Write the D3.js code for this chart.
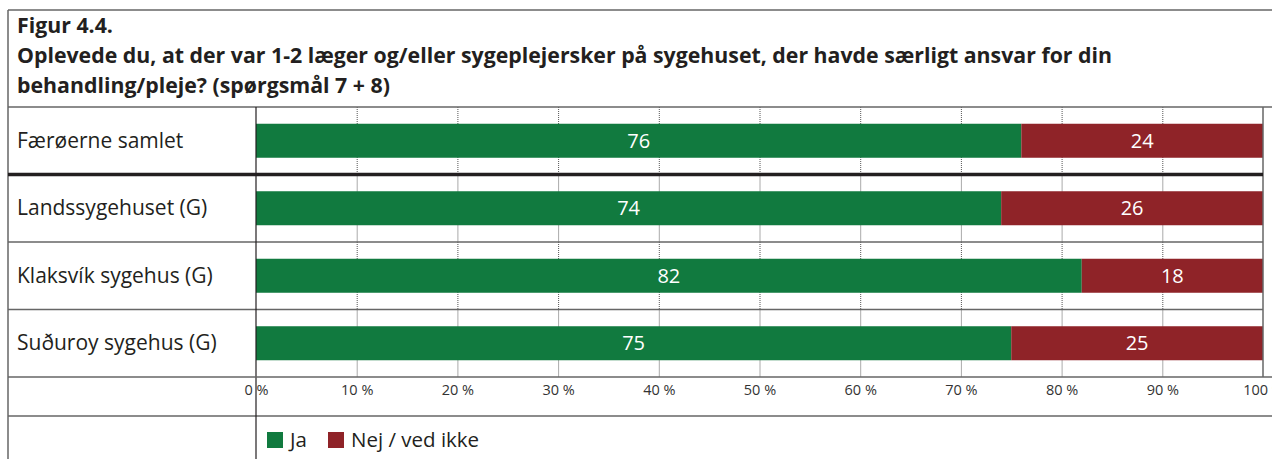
<!DOCTYPE html>
<html>
<head>
<meta charset="utf-8">
<script src="https://cdn.jsdelivr.net/npm/d3@7"></script>
<style>
  body { margin: 0; background: #fff; }
  svg text { font-family: "Open Sans", "Noto Sans", sans-serif; }
</style>
</head>
<body>
<div id="chart"></div>
<script>
var titleLines = ["Figur 4.4.",
  "Oplevede du, at der var 1-2 læger og/eller sygeplejersker på sygehuset, der havde særligt ansvar for din",
  "behandling/pleje? (spørgsmål 7 + 8)"]
var categories = ["Færøerne samlet", "Landssygehuset (G)", "Klaksvík sygehus (G)", "Suðuroy sygehus (G)"]
var jaValues = [76, 74, 82, 75]
var nejValues = [24, 26, 18, 25]
var seriesNames = ["Ja", "Nej / ved ikke"]
var tickValues = [0, 10, 20, 30, 40, 50, 60, 70, 80, 90, 100]

var W = 1272, H = 459
var colors = ["#117a3f", "#8f2328"]
var frameColor = "#666"

var svg = d3.select("#chart").append("svg")
  .attr("width", W)
  .attr("height", H)

var x = d3.scaleLinear()
  .domain([0, 100])
  .range([256, 1263])

var y = d3.scaleBand()
  .domain(categories)
  .range([107, 377])

var barH = 34

// title
svg.selectAll(".title")
  .data(titleLines)
  .enter().append("text")
  .attr("class", "title")
  .attr("x", 17)
  .attr("y", function (d, i) { return 33 + i * 30 })
  .style("font-size", "21.3px")
  .style("font-weight", "bold")
  .style("fill", "#231f20")
  .text(function (d) { return d })

// gridlines per row
categories.forEach(function (c) {
  svg.append("g")
    .selectAll("line")
    .data(tickValues.slice(1, -1))
    .enter().append("line")
    .attr("x1", function (d) { return x(d) + 0.5 })
    .attr("x2", function (d) { return x(d) + 0.5 })
    .attr("y1", y(c))
    .attr("y2", y(c) + y.bandwidth())
    .attr("stroke", "#555")
    .attr("stroke-width", 1)
    .attr("stroke-dasharray", "1,1")
})

// bars
var stackData = categories.map(function (c, i) {
  return { cat: c, ja: jaValues[i], nej: nejValues[i] }
})
var stack = d3.stack().keys(["ja", "nej"])(stackData)

var layers = svg.selectAll(".layer")
  .data(stack)
  .enter().append("g")
  .attr("class", "layer")
  .attr("fill", function (d, i) { return colors[i] })

layers.selectAll("rect")
  .data(function (d) { return d })
  .enter().append("rect")
  .attr("x", function (d) { return x(d[0]) })
  .attr("width", function (d) { return x(d[1]) - x(d[0]) })
  .attr("y", function (d) { return y(d.data.cat) + (y.bandwidth() - barH) / 2 })
  .attr("height", barH)

layers.selectAll("text")
  .data(function (d) { return d })
  .enter().append("text")
  .attr("x", function (d) { return (x(d[0]) + x(d[1])) / 2 })
  .attr("y", function (d) { return y(d.data.cat) + y.bandwidth() / 2 + 7 })
  .attr("text-anchor", "middle")
  .style("font-size", "20px")
  .style("fill", "#fff")
  .text(function (d) { return d[1] - d[0] })

// category labels
svg.selectAll(".cat")
  .data(categories)
  .enter().append("text")
  .attr("class", "cat")
  .attr("x", 17)
  .attr("y", function (d) { return y(d) + y.bandwidth() / 2 + 7 })
  .style("font-size", "21px")
  .style("fill", "#231f20")
  .text(function (d) { return d })

// frame lines
var frame = svg.append("g")
  .attr("stroke", frameColor)
  .attr("stroke-width", 1.5)
frame.append("line").attr("x1", 8).attr("x2", W).attr("y1", 10).attr("y2", 10)
frame.append("line").attr("x1", 8).attr("x2", 8).attr("y1", 10).attr("y2", H)
frame.append("line").attr("x1", 8).attr("x2", W).attr("y1", 107).attr("y2", 107)
frame.append("line").attr("x1", 8).attr("x2", W).attr("y1", 416).attr("y2", 416)
frame.append("line").attr("x1", x(100)).attr("x2", x(100)).attr("y1", 107).attr("y2", 377)
categories.slice(2).forEach(function (c) {
  frame.append("line").attr("x1", 8).attr("x2", x(100)).attr("y1", y(c)).attr("y2", y(c))
})

svg.append("line")
  .attr("x1", 8).attr("x2", x(100))
  .attr("y1", y(categories[1])).attr("y2", y(categories[1]))
  .attr("stroke", "#231f20")
  .attr("stroke-width", 3.5)

svg.append("line")
  .attr("x1", x(0)).attr("x2", x(0))
  .attr("y1", 107).attr("y2", H)
  .attr("stroke", "#231f20")
  .attr("stroke-width", 1.2)

// x axis
var axis = svg.append("g")
  .attr("transform", "translate(0,377)")
  .call(d3.axisBottom(x)
    .tickValues(tickValues)
    .tickSize(0)
    .tickPadding(8)
    .tickFormat(function (d) { return d + " %" }))
axis.select(".domain")
  .attr("stroke", frameColor)
  .attr("stroke-width", 1.5)
  .attr("d", "M8,0H" + W)
axis.selectAll("text")
  .style("font-size", "14.5px")
  .style("fill", "#333")
  .style("font-family", "\"Open Sans\", sans-serif")

// legend
var legend = svg.selectAll(".legend")
  .data(seriesNames)
  .enter().append("g")
  .attr("class", "legend")
  .attr("transform", function (d, i) { return "translate(" + [267, 328][i] + ",432)" })

legend.append("rect")
  .attr("width", 16)
  .attr("height", 16)
  .attr("fill", function (d, i) { return colors[i] })

legend.append("text")
  .attr("x", 23)
  .attr("y", 15)
  .style("font-size", "20.5px")
  .style("fill", "#231f20")
  .text(function (d) { return d })
</script>
</body>
</html>
